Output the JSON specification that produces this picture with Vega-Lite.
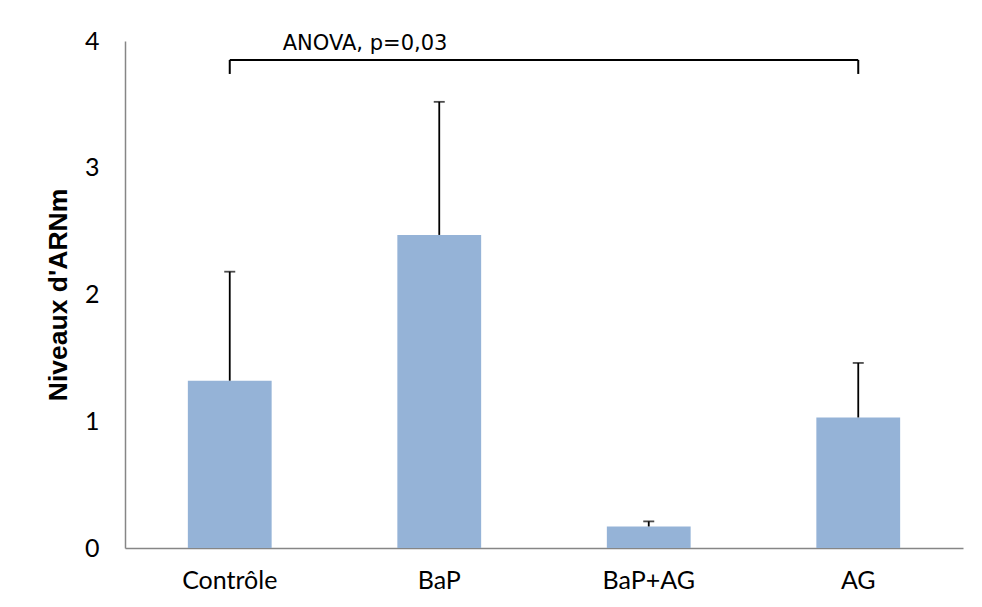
{
  "$schema": "https://vega.github.io/schema/vega-lite/v6.json",
  "width": 838,
  "height": 507,
  "autosize": {"type": "none"},
  "padding": {"left": 125, "top": 41, "right": 19, "bottom": 59},
  "background": "white",
  "config": {"view": {"stroke": null}},
  "datasets": {
    "bars": [
      {"group": "Contrôle", "value": 1.32, "upper": 2.18},
      {"group": "BaP", "value": 2.47, "upper": 3.52},
      {"group": "BaP+AG", "value": 0.17, "upper": 0.21},
      {"group": "AG", "value": 1.03, "upper": 1.46}
    ],
    "bracket": [
      {"g1": "Contrôle", "g2": "AG", "top": 3.85, "bottom": 3.74, "textY": 3.98, "label": "ANOVA, p=0,03"}
    ],
    "ends": [
      {"g": "Contrôle", "top": 3.85, "bottom": 3.74},
      {"g": "AG", "top": 3.85, "bottom": 3.74}
    ]
  },
  "encoding": {
    "x": {
      "field": "group",
      "type": "nominal",
      "sort": ["Contrôle", "BaP", "BaP+AG", "AG"],
      "scale": {"domain": ["Contrôle", "BaP", "BaP+AG", "AG"], "paddingInner": 0.6, "paddingOuter": 0.3},
      "axis": {
        "title": null,
        "labelAngle": 0,
        "labelFont": "Lato",
        "labelFontSize": 25,
        "labelColor": "black",
        "labelPadding": 20,
        "ticks": false,
        "domainColor": "#868686",
        "domainWidth": 1.5
      }
    }
  },
  "layer": [
    {
      "data": {"name": "bars"},
      "mark": {"type": "bar", "color": "#95B3D7"},
      "encoding": {
        "y": {
          "field": "value",
          "type": "quantitative",
          "scale": {"domain": [0, 4], "nice": false},
          "axis": {
            "title": "Niveaux d'ARNm",
            "titleFont": "Liberation Sans",
            "titleFontSize": 26.5,
            "titleFontWeight": "bold",
            "titleColor": "black",
            "titlePadding": 12,
            "values": [0, 1, 2, 3, 4],
            "format": "d",
            "grid": false,
            "ticks": false,
            "labelFont": "Lato",
            "labelFontSize": 25,
            "labelColor": "black",
            "labelPadding": 26,
            "domainColor": "#868686",
            "domainWidth": 1.5
          }
        }
      }
    },
    {
      "data": {"name": "bars"},
      "mark": {"type": "rule", "color": "black", "strokeWidth": 1.8},
      "encoding": {
        "y": {"field": "value", "type": "quantitative"},
        "y2": {"field": "upper"}
      }
    },
    {
      "data": {"name": "bars"},
      "mark": {"type": "tick", "color": "black", "size": 11, "thickness": 1.8, "orient": "horizontal"},
      "encoding": {
        "y": {"field": "upper", "type": "quantitative"}
      }
    },
    {
      "data": {"name": "bracket"},
      "mark": {"type": "rule", "color": "black", "strokeWidth": 2},
      "encoding": {
        "x": {"field": "g1", "type": "nominal"},
        "x2": {"field": "g2"},
        "y": {"field": "top", "type": "quantitative"}
      }
    },
    {
      "data": {"name": "ends"},
      "mark": {"type": "rule", "color": "black", "strokeWidth": 2},
      "encoding": {
        "x": {"field": "g", "type": "nominal"},
        "y": {"field": "top", "type": "quantitative"},
        "y2": {"field": "bottom"}
      }
    },
    {
      "data": {"name": "bracket"},
      "mark": {"type": "text", "font": "DejaVu Sans", "fontSize": 21, "align": "left", "baseline": "middle", "dx": 53, "color": "black"},
      "encoding": {
        "x": {"field": "g1", "type": "nominal"},
        "y": {"field": "textY", "type": "quantitative"},
        "text": {"field": "label"}
      }
    }
  ]
}
